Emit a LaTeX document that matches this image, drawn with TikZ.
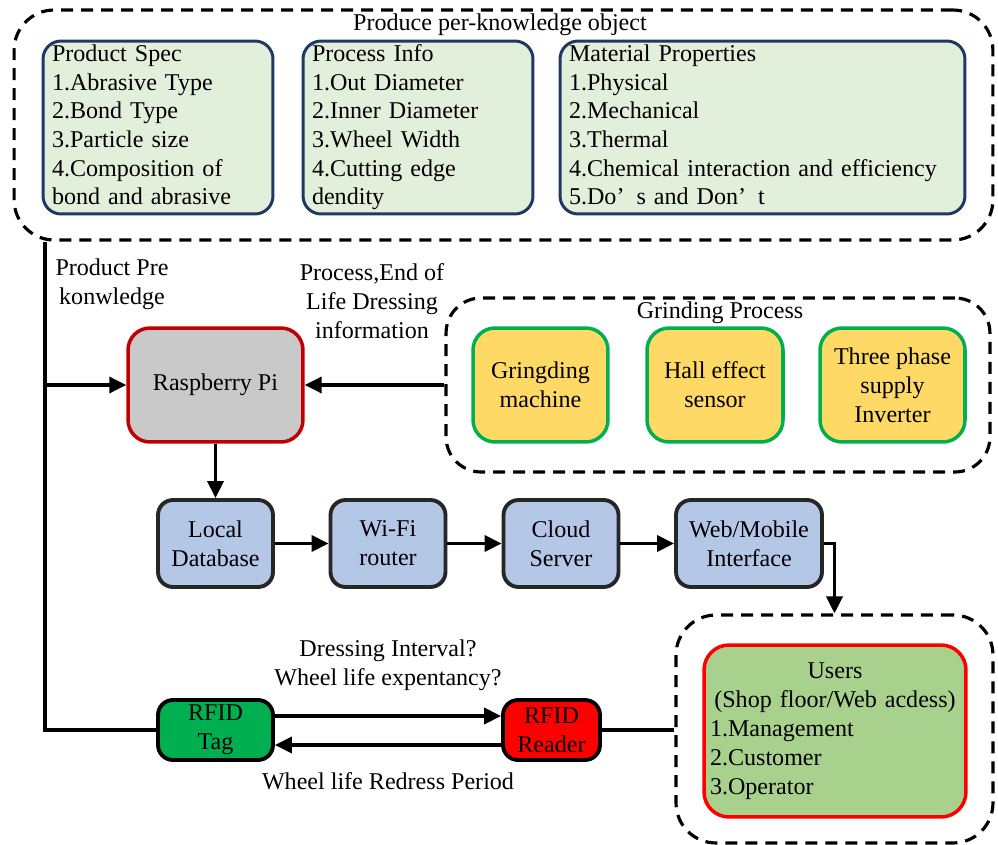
\documentclass[tikz,border=0pt]{standalone}
\usepackage{fontspec}
\setmainfont{Liberation Serif}
\usetikzlibrary{arrows.meta}

\definecolor{navyline}{RGB}{31,56,100}
\definecolor{specfill}{RGB}{226,239,218}
\definecolor{pifill}{RGB}{201,201,201}
\definecolor{piline}{RGB}{192,0,0}
\definecolor{procfill}{RGB}{255,217,102}
\definecolor{procline}{RGB}{0,176,80}
\definecolor{netfill}{RGB}{180,199,231}
\definecolor{netline}{RGB}{38,38,38}
\definecolor{userfill}{RGB}{169,209,142}
\definecolor{tagfill}{RGB}{0,176,80}
\definecolor{readerfill}{RGB}{255,0,0}

\begin{document}
\begin{tikzpicture}[x=0.02cm,y=-0.02cm,>={Triangle[length=0.34cm,width=0.32cm]},
	font=\fontsize{13.7}{16.5}\selectfont,
	group/.style={draw,line width=1.8pt,dash pattern=on 0.24cm off 0.16cm,rounded corners=0.8cm},
	infobox/.style={draw=navyline,fill=specfill,line width=1.7pt,rounded corners=0.36cm,align=left,minimum height=3.46cm,inner xsep=0.18cm,inner ysep=0pt,
		font=\fontsize{13.7}{16.3}\selectfont,execute at begin node=\strut,execute at end node=\strut},
	pibox/.style={draw=piline,fill=pifill,line width=2pt,rounded corners=0.44cm,minimum width=3.5cm,minimum height=2.28cm},
	procbox/.style={draw=procline,fill=procfill,line width=2pt,rounded corners=0.44cm,minimum height=2.28cm,align=center,inner sep=1pt},
	netbox/.style={draw=netline,fill=netfill,line width=2.2pt,rounded corners=0.3cm,minimum width=2.3cm,minimum height=1.74cm,align=center,inner sep=1pt},
	userbox/.style={draw=red,fill=userfill,line width=2pt,rounded corners=0.5cm,text width=5cm,inner xsep=0.12cm,minimum height=3.44cm,align=left},
	rfidbox/.style={draw=black,line width=2.2pt,rounded corners=0.3cm,minimum height=1.2cm,inner sep=1pt,align=center},
	link/.style={line width=2pt}]
	
	\useasboundingbox (0,0) rectangle (998,845);
	
	\begin{scope}
		\node[group,minimum width=19.58cm,minimum height=4.6cm] (knowledge) at (503.5,125) {};
		\node (knowtitle) at (500,25) {Produce per-knowledge object};
		\node[infobox,text width=4.24cm] (spec) at (158,127.5) {Product Spec\\1.Abrasive Type\\2.Bond Type\\3.Particle size\\4.Composition of\\bond and abrasive};
		\node[infobox,text width=4.24cm] (procinfo) at (418,127.5) {Process Info\\1.Out Diameter\\2.Inner Diameter\\3.Wheel Width\\4.Cutting edge\\dendity};
		\node[infobox,text width=7.74cm] (material) at (762.5,127.5) {Material Properties\\1.Physical\\2.Mechanical\\3.Thermal\\4.Chemical interaction and efficiency\\5.Do’\enspace s and Don’\enspace t};
	\end{scope}
	
	\node[pibox] (pi) at (215.5,385) {Raspberry Pi};
	
	\begin{scope}
		\node[group,rounded corners=0.7cm,minimum width=10.88cm,minimum height=3.48cm] (grinding) at (718,385) {};
		\node (grindtitle) at (720,313) {Grinding Process};
		\node[procbox,minimum width=2.7cm] (machine) at (540.5,385) {Gringding\\machine};
		\node[procbox,minimum width=2.72cm] (hall) at (715,385) {Hall effect\\sensor};
		\node[procbox,minimum width=2.9cm] (inverter) at (892.5,385) {Three phase\\supply\\Inverter};
	\end{scope}
	
	\node[netbox] (localdb) at (215.5,543.5) {Local\\Database};
	\node[netbox] (wifi) at (388,543.5) {Wi-Fi\\router};
	\node[netbox] (cloud) at (561,543.5) {Cloud\\Server};
	\node[netbox,minimum width=2.92cm] (web) at (749,543.5) {Web/Mobile\\Interface};
	
	\begin{scope}
		\node[group,minimum width=6.34cm,minimum height=4.56cm] (usergroup) at (834.5,729) {};
		\node[userbox] (users) at (835,731) {\strut\centering Users\\(Shop floor/Web acdess)\par\raggedright 1.Management\\2.Customer\\3.Operator\strut};
	\end{scope}
	
	\node[rfidbox,fill=tagfill,minimum width=2.3cm] (tag) at (215.5,730) {RFID\\Tag};
	\node[rfidbox,fill=readerfill,minimum width=1.94cm] (reader) at (551.5,730) {RFID\\Reader};
	
	\node[align=center] (prelabel) at (112,284) {Product Pre\\konwledge};
	\node[align=center] (proclabel) at (372,301) {Process,End of\\Life Dressing\\information};
	\node[align=center] (asklabel) at (388,665) {Dressing Interval?\\Wheel life expentancy?};
	\node (redresslabel) at (388,781) {Wheel life Redress Period};
	
	\coordinate (bus) at (45,730);
	\draw[link] (knowledge.south -| bus) -- (bus) -- (tag.west);
	\draw[link,->] (bus |- pi.west) -- (pi.west);
	\draw[link,->] (grinding.west) -- (pi.east);
	\draw[link,->] (pi.south) -- (localdb.north);
	\draw[link,->] (localdb.east) -- (wifi.west);
	\draw[link,->] (wifi.east) -- (cloud.west);
	\draw[link,->] (cloud.east) -- (web.west);
	\draw[link,->] (web.east) -| (usergroup.north);
	\draw[link,->] ([yshift=0.28cm]tag.east) -- ([yshift=0.28cm]reader.west);
	\draw[link,->] ([yshift=-0.3cm]reader.west) -- ([yshift=-0.3cm]tag.east);
	\draw[link] (reader.east) -- (reader.east -| usergroup.west);
	
\end{tikzpicture}
\end{document}
